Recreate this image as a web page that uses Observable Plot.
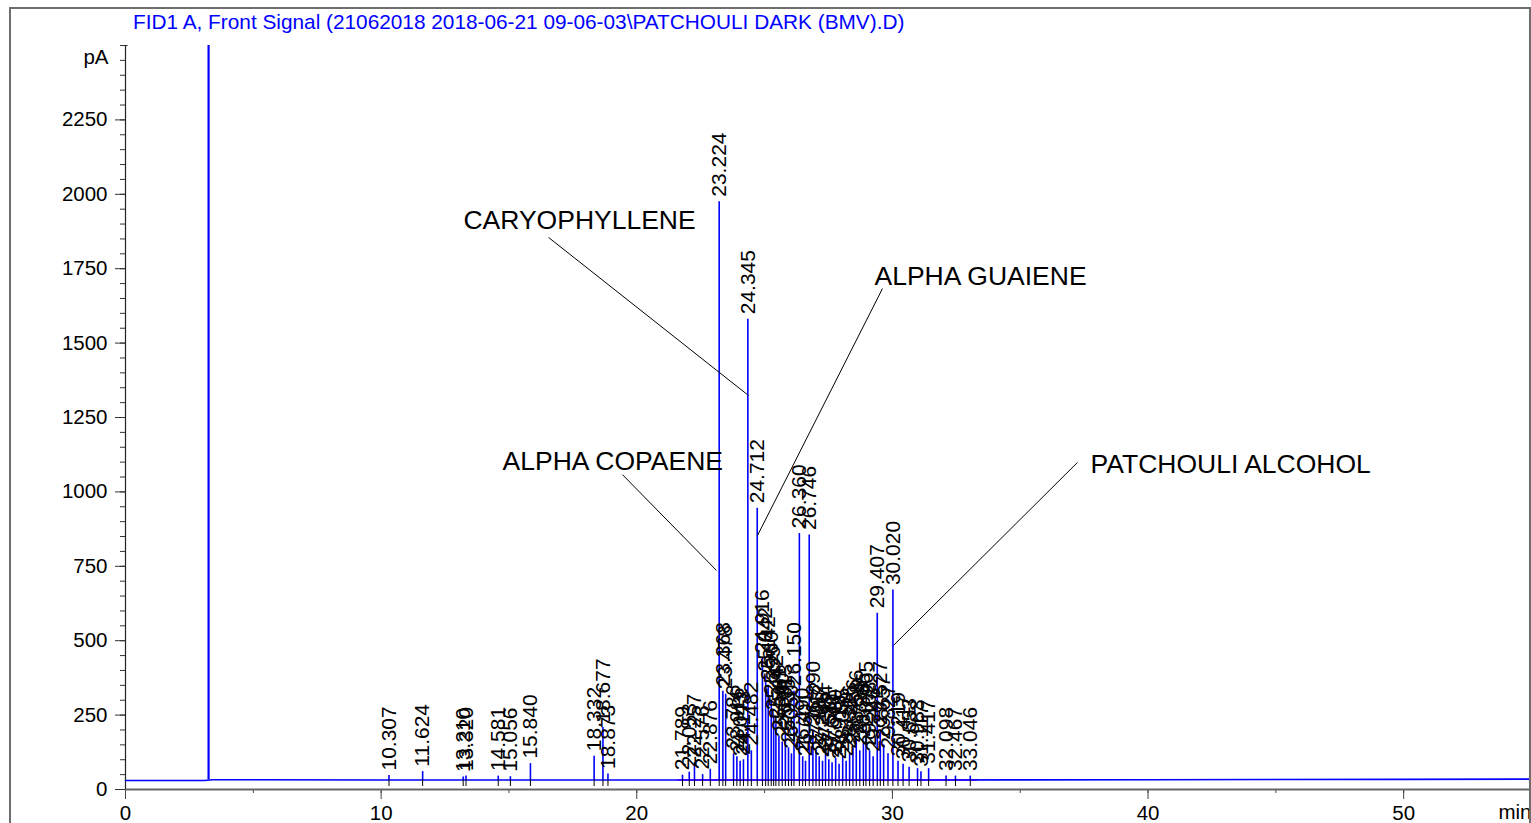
<!DOCTYPE html>
<html><head><meta charset="utf-8">
<script src="https://cdn.jsdelivr.net/npm/d3@7"></script>
<script src="https://cdn.jsdelivr.net/npm/@observablehq/plot@0.6"></script>
<style>
body{margin:0;background:#fff;overflow:hidden}
#wrap{position:relative;width:1531px;height:823px;font-family:Arial,"Liberation Sans",sans-serif}
#chart{position:absolute;left:0;top:0}
#frame{position:absolute;left:9px;top:7px;width:1522px;height:900px;border:2px solid #6e6e6e;box-sizing:border-box;pointer-events:none}
#title{position:absolute;left:133px;top:10px;color:#0000ff;font-size:20.8px;white-space:nowrap;line-height:24px}
</style></head><body>
<div id="wrap"><div id="chart"></div><div id="title">FID1 A, Front Signal (21062018 2018-06-21 09-06-03\PATCHOULI DARK (BMV).D)</div><div id="frame"></div></div>
<script>
// ---- data ----
const peakTimes = [10.307, 11.624, 13.210, 13.320, 14.581, 15.056, 15.840, 18.332, 18.677, 18.873,
  21.789, 22.053, 22.257, 22.576, 22.876, 23.224, 23.368, 23.478, 23.786, 23.916,
  24.043, 24.173, 24.345, 24.482, 24.712, 24.916, 25.042, 25.142, 25.260, 25.355,
  25.442, 25.561, 25.690, 25.813, 25.935, 26.050, 26.150, 26.360, 26.490, 26.601,
  26.746, 26.890, 27.012, 27.137, 27.266, 27.384, 27.512, 27.640, 27.780, 27.913,
  28.055, 28.190, 28.326, 28.456, 28.586, 28.724, 28.865, 28.965, 29.108, 29.246,
  29.407, 29.527, 29.657, 29.827, 30.020, 30.219, 30.417, 30.653, 30.983, 31.117,
  31.417, 32.098, 32.467, 33.046];
const peakHeights = [47, 60, 42, 45, 45, 43, 87, 112, 208, 52,
  48, 58, 90, 50, 68, 1975, 330, 320, 120, 110,
  95, 100, 1580, 130, 945, 440, 380, 350, 300, 250,
  220, 180, 160, 190, 140, 120, 330, 860, 110, 95,
  855, 200, 130, 110, 95, 120, 100, 90, 105, 85,
  110, 95, 120, 140, 170, 130, 160, 200, 130, 110,
  592, 200, 150, 120, 670, 95, 85, 75, 70, 60,
  70, 45, 45, 45];
const solventTime = [3.25];
const solventHeight = [3200];
const baselineTimes = [0, 3.1, 3.4, 10, 20, 30, 40, 50, 55];
const baselineValues = [30, 30, 33, 32, 32, 32, 33, 34, 35];
const integrationTimes = [21.6, 33.3];
const yMajorTicks = [0, 250, 500, 750, 1000, 1250, 1500, 1750, 2000, 2250];
const xMajorTicks = [0, 10, 20, 30, 40, 50];
const annNames = ["CARYOPHYLLENE", "ALPHA GUAIENE", "ALPHA COPAENE", "PATCHOULI ALCOHOL"];
const annTextX = [13.22, 29.30, 14.75, 37.75];
const annTextY = [1912, 1724, 1102, 1092];
const annFromX = [16.55, 29.61, 19.44, 37.24];
const annFromY = [1855, 1683, 1058, 1099];
const annToX = [24.37, 24.72, 23.12, 30.04];
const annToY = [1324, 853, 736, 484];

// ---- tables ----
const base = 32;
const peaks = peakTimes.map((rt, i) => ({rt, h: peakHeights[i]}));
const solvent = solventTime.map((rt, i) => ({rt, h: solventHeight[i]}));
const baseline = baselineTimes.map((t, i) => ({t, v: baselineValues[i]}));
const integ = integrationTimes.map(t => ({t, v: base}));
const ann = annNames.map((n, i) => ({n, tx: annTextX[i], ty: annTextY[i], x1: annFromX[i], y1: annFromY[i], x2: annToX[i], y2: annToY[i]}));

const blue = "#0000ff";
const chart = Plot.plot({
  width: 1531, height: 823,
  marginLeft: 125, marginRight: 0, marginTop: 45, marginBottom: 34,
  x: {domain: [0, 55]},
  y: {domain: [0, 2500]},
  style: {fontFamily: "Arial, 'Liberation Sans', sans-serif", fontSize: "20px", background: "transparent", color: "black"},
  marks: [
    Plot.axisY({ticks: d3.range(0, 2501, 50), tickSize: 5, tickFormat: () => "", label: null, stroke: "#333"}),
    Plot.axisY({ticks: yMajorTicks, tickSize: 10, tickPadding: 8, tickFormat: d3.format("d"), label: null, stroke: "#333", fontSize: 20.5}),
    Plot.axisX({ticks: d3.range(0, 55.1, 5), tickSize: 4, tickFormat: () => "", label: null, stroke: "#444"}),
    Plot.axisX({ticks: xMajorTicks, tickSize: 10, tickPadding: 6, tickFormat: d3.format("d"), label: null, stroke: "#444", fontSize: 20.5}),
    Plot.ruleY([0], {stroke: "#666", strokeWidth: 2}),
    Plot.ruleX([0], {y1: 0, y2: 2500, stroke: "#222", strokeWidth: 1.2}),
    Plot.ruleY([2500], {x1: 0, x2: 0.1, stroke: "#222"}),
    Plot.line(integ, {x: "t", y: "v", stroke: "#ff00ff", strokeWidth: 1.5}),
    Plot.line(baseline, {x: "t", y: "v", stroke: blue, strokeWidth: 1.6}),
    Plot.ruleX(solvent, {x: "rt", y1: base, y2: "h", stroke: blue, strokeWidth: 2.2, clip: true}),
    Plot.ruleX(peaks, {x: "rt", y1: base, y2: "h", stroke: blue, strokeWidth: 1.6, clip: true}),
    Plot.ruleX(peaks, {x: "rt", y1: 10, y2: base, stroke: "black", strokeWidth: 1}),
    Plot.text(peaks, {x: "rt", y: "h", text: d => d.rt.toFixed(3), rotate: -90, textAnchor: "start", lineAnchor: "middle", dy: -5, fontSize: 21, fill: "black"}),
    Plot.link(ann, {x1: "x1", y1: "y1", x2: "x2", y2: "y2", stroke: "black", strokeWidth: 1}),
    Plot.text(ann, {x: "tx", y: "ty", text: "n", textAnchor: "start", lineAnchor: "middle", fontSize: 26.5, fill: "black"}),
    Plot.text(["pA"], {x: 0, y: 2460, dx: -17, textAnchor: "end", lineAnchor: "middle", fontSize: 20.5, fill: "black"}),
    Plot.text(["min"], {x: 55, y: 0, dy: 23, textAnchor: "end", lineAnchor: "middle", fontSize: 20.5, fill: "black"})
  ]
});
document.getElementById("chart").appendChild(chart);
</script>
</body></html>
